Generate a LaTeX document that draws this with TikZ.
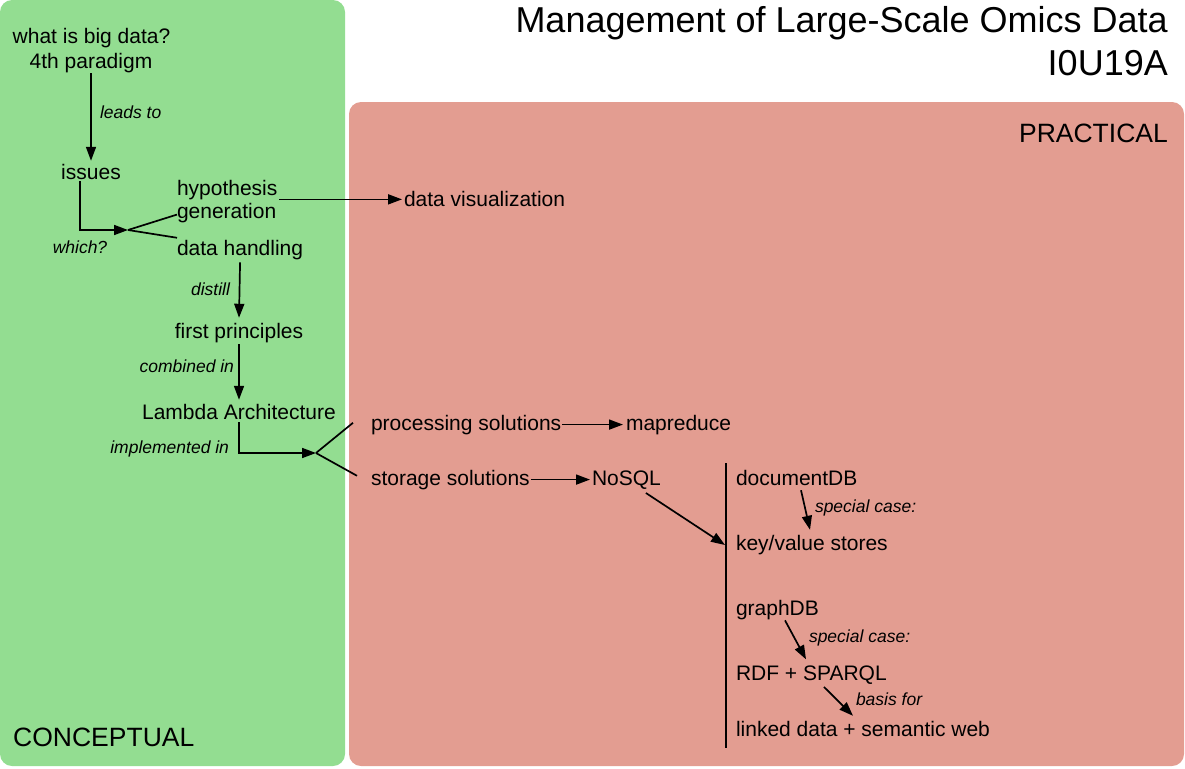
\documentclass[tikz,border=0pt]{standalone}
\usepackage{fontspec}
\setmainfont{Liberation Sans}
\usetikzlibrary{arrows.meta,calc}
\definecolor{concgreen}{RGB}{147,221,145}
\definecolor{practred}{RGB}{227,157,145}
\begin{document}
\begin{tikzpicture}[x=1pt,y=-1pt,
  txt/.style={font=\fontsize{21}{24}\selectfont, inner sep=0pt, outer sep=0pt},
  lbl/.style={font=\fontsize{17.5}{20}\selectfont\itshape, inner sep=0pt, outer sep=0pt},
  head/.style={font=\fontsize{36}{40}\selectfont, inner sep=0pt},
  area/.style={font=\fontsize{26.5}{30}\selectfont, inner sep=0pt},
  arr/.style={line width=1.7pt, -{Triangle[length=14pt,width=10pt]}},
  ln/.style={line width=1.7pt}]
\useasboundingbox (0,0) rectangle (1185,768);
% panels
\fill[concgreen, rounded corners=12pt] (0,0) rectangle (345,766);
\fill[practred, rounded corners=12pt] (349,102) rectangle (1184,766);
% headings
\node[head, anchor=base east] (title1) at (1168,33) {Management of Large-Scale Omics Data};
\node[head, anchor=base east] (title2) at (1168,75) {I0U19A};
\node[area, anchor=base east] (practical) at (1168,142) {PRACTICAL};
\node[area, anchor=base west] (conceptual) at (13,746) {CONCEPTUAL};
% conceptual nodes
\node[txt, anchor=base] (big) at (91.5,44) {what is big data?};
\node[txt, anchor=base] (para) at (91,68) {4th paradigm};
\node[txt, anchor=base] (issues) at (91,179) {issues};
\node[txt, anchor=base west] (hyp) at (177,195) {hypothesis};
\node[txt, anchor=base west] (gen) at (177,218) {generation};
\node[txt, anchor=base west] (dh) at (177,255) {data handling};
\node[txt, anchor=base] (fp) at (239,338) {first principles};
\node[txt, anchor=base] (la) at (239,419) {Lambda Architecture};
% practical nodes
\node[txt, anchor=base west] (dv) at (404,206) {data visualization};
\node[txt, anchor=base west] (ps) at (371,430) {processing solutions};
\node[txt, anchor=base west] (mr) at (626,430) {mapreduce};
\node[txt, anchor=base west] (ss) at (371,485) {storage solutions};
\node[txt, anchor=base west] (nosql) at (592,485) {NoSQL};
\node[txt, anchor=base west] (ddb) at (736,485) {documentDB};
\node[txt, anchor=base west] (kv) at (736,550) {key/value stores};
\node[txt, anchor=base west] (gdb) at (736,615) {graphDB};
\node[txt, anchor=base west] (rdf) at (736,680) {RDF + SPARQL};
\node[txt, anchor=base west] (ld) at (736,736) {linked data + semantic web};
% labels
\node[lbl, anchor=base west] (l1) at (100,118) {leads to};
\node[lbl, anchor=base] (l2) at (80,253) {which?};
\node[lbl, anchor=base east] (l3) at (230,295) {distill};
\node[lbl, anchor=base east] (l4) at (234,372) {combined in};
\node[lbl, anchor=base east] (l5) at (229,453) {implemented in};
\node[lbl, anchor=base west] (l6) at (815,512) {special case:};
\node[lbl, anchor=base west] (l7) at (809,642) {special case:};
\node[lbl, anchor=base west] (l8) at (856,705) {basis for};
% coordinates
\coordinate (split1) at (128,230);
\coordinate (split2) at (316,453);
\coordinate (vtop) at (726,463);
\coordinate (vbot) at (726,748);
\coordinate (kvtip) at (725,545);
% connectors
\draw[arr] (para.south) ++(0,1) -- ([yshift=3]issues.north);
\draw[arr] ([xshift=-11]issues.south) ++(0,2) |- (split1);
\draw[ln] (split1) -- ([yshift=-2]gen.west);
\draw[ln] (split1) -- ([yshift=2]dh.north west);
\draw[arr] ([xshift=2]hyp.south east) -- ([xshift=-2]hyp.south east -| dv.west);
\draw[arr] ([yshift=-3]dh.south) -- ([yshift=5]fp.north);
\draw[arr] ([yshift=-2]fp.south) -- ([yshift=4]la.north);
\draw[arr] ([yshift=-3]la.south) |- (split2);
\draw[ln] (split2) -- ([xshift=-18,yshift=-8]ps.north west);
\draw[ln] (split2) -- ([xshift=-14,yshift=-6]ss.north west);
\draw[arr] ([xshift=1]ps.east) -- ([xshift=-3]ps.east -| mr.west);
\draw[arr] ([xshift=1]ss.east) -- ([xshift=-2]ss.east -| nosql.west);
\draw[arr] ([xshift=-15,yshift=-4]nosql.south east) -- (kvtip);
\draw[ln] (vtop) -- (vbot);
\draw[arr] ([xshift=65,yshift=-5]ddb.south west) -- ([xshift=74,yshift=5]kv.north west);
\draw[arr] ([xshift=49,yshift=-1]gdb.south west) -- ([xshift=70,yshift=6]rdf.north west);
\draw[arr] ([xshift=88,yshift=-3]rdf.south west) -- ([xshift=117,yshift=5]ld.north west);
\end{tikzpicture}
\end{document}
